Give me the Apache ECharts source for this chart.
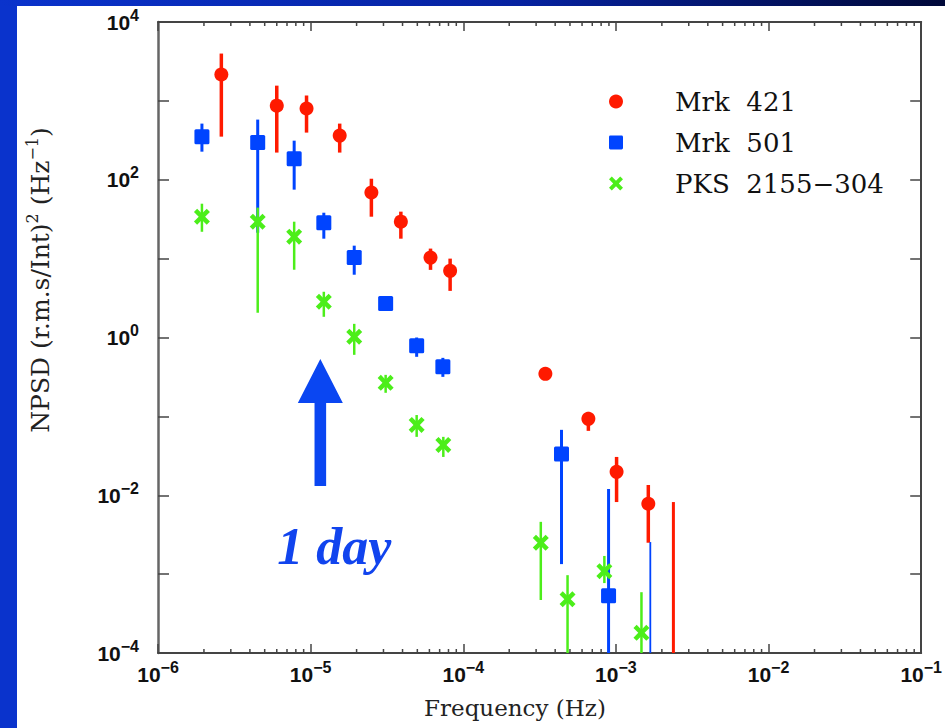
<!DOCTYPE html>
<html>
<head>
<meta charset="utf-8">
<script src="https://cdn.jsdelivr.net/npm/echarts@6/dist/echarts.min.js"></script>
<style>
html,body{margin:0;padding:0;background:#fff;}
#c{width:945px;height:728px;}
</style>
</head>
<body>
<div id="c"></div>
<script>
// ---- Data ----
const mrk421Freq = [2.6e-6, 6.0e-6, 9.4e-6, 1.55e-5, 2.5e-5, 3.9e-5, 6.1e-5, 8.2e-5, 3.45e-4, 6.6e-4, 1.01e-3, 1.63e-3];
const mrk421Npsd = [2160, 870, 800, 363, 69, 29.4, 10.3, 7.0, 0.346, 0.093, 0.0198, 0.0078];
const mrk421Hi   = [3980, 1560, 1170, 515, 103, 39.4, 13.4, 10.0, 0.36, 0.114, 0.0306, 0.0135];
const mrk421Lo   = [352, 221, 396, 221, 34, 17.9, 7.2, 3.9, 0.33, 0.0655, 0.0082, 0.0025];

const mrk501Freq = [1.94e-6, 4.5e-6, 7.8e-6, 1.22e-5, 1.93e-5, 3.1e-5, 4.95e-5, 7.35e-5, 4.4e-4, 8.95e-4];
const mrk501Npsd = [352, 296, 185, 28.6, 10.3, 2.7, 0.785, 0.425, 0.0334, 0.00053];
const mrk501Hi   = [515, 579, 313, 38.2, 14.6, 3.0, 1.0, 0.552, 0.0675, 0.012];
const mrk501Lo   = [227, 21.3, 74.9, 17.9, 6.25, 2.4, 0.569, 0.317, 0.00134, 1e-5];

const pksFreq = [1.94e-6, 4.5e-6, 7.8e-6, 1.22e-5, 1.93e-5, 3.1e-5, 4.95e-5, 7.4e-5, 3.22e-4, 4.82e-4, 8.4e-4, 1.47e-3];
const pksNpsd = [34, 29.4, 19.0, 2.84, 1.02, 0.266, 0.078, 0.0435, 0.0025, 0.00048, 0.00109, 0.00018];
const pksHi   = [49.7, 44.3, 29.4, 3.8, 1.49, 0.336, 0.104, 0.055, 0.0046, 0.00097, 0.0017, 0.00059];
const pksLo   = [21.9, 2.06, 7.23, 1.83, 0.603, 0.199, 0.055, 0.0306, 0.00047, 1e-5, 0.00077, 1e-5];

// error bars without a plotted point (upper limits)
const mrk421LimitFreq = [2.38e-3];
const mrk421LimitHi   = [0.0082];
const mrk421LimitLo   = [1e-5];
const mrk501LimitFreq = [1.68e-3];
const mrk501LimitHi   = [0.00255];
const mrk501LimitLo   = [1e-5];

const seriesNames = ['Mrk 421', 'Mrk 501', 'PKS 2155\u2212304'];
const xMin = 1e-6, xMax = 1e-1, yMin = 1e-4, yMax = 1e4;
const minorMultipliers = [2, 3, 4, 5, 6, 7, 8, 9];
const oneDayFreq = 1 / 86400;

// ---- Styles ----
const RED = '#ff1a00', BLUE = '#0044ff', GREEN = '#4cee1a';
const SERIF = '"DejaVu Serif", "Liberation Serif", serif';
const SANS = '"Liberation Sans", Arial, sans-serif';
const AXIS_COLOR = '#444';

const minorTickData = [];
for (let e = Math.round(Math.log10(xMin)); e < Math.round(Math.log10(xMax)); e++) {
  minorMultipliers.forEach(m => minorTickData.push([m * Math.pow(10, e)]));
}

function supFormatter(v) {
  const e = Math.round(Math.log10(v));
  return '{b|10}{e|' + (e < 0 ? '\u2212' + (-e) : String(e)) + '}';
}
const supRich = {
  b: { fontSize: 21, fontFamily: SANS, color: '#111', fontWeight: 'bold', verticalAlign: 'middle' },
  e: { fontSize: 16, fontFamily: SANS, color: '#111', fontWeight: 'bold', verticalAlign: 'middle', padding: [0, 0, 14, 0] }
};

function errSeries(name, freq, lo, hi, color, width, z) {
  return {
    type: 'custom', name: name, clip: true, silent: true, z: z,
    data: freq.map((f, i) => [f, lo[i], hi[i]]),
    encode: { x: 0, y: [1, 2] },
    renderItem: function (params, api) {
      const a = api.coord([api.value(0), api.value(1)]);
      const b = api.coord([api.value(0), api.value(2)]);
      return { type: 'line', shape: { x1: a[0], y1: a[1], x2: b[0], y2: b[1] },
               style: { stroke: color, lineWidth: width } };
    }
  };
}
function pointSeries(name, freq, vals, symbol, size, color, z) {
  return {
    type: 'scatter', name: name, symbol: symbol, symbolSize: size, z: z,
    itemStyle: { color: color, opacity: 1 },
    data: freq.map((f, i) => [f, vals[i]])
  };
}

const xSymbol = 'path://M0,4 L4,0 L10,6 L16,0 L20,4 L14,10 L20,16 L16,20 L10,14 L4,20 L0,16 L6,10 Z';
const squareSymbol = 'path://M1,0 L9,0 Q10,0 10,1 L10,9 Q10,10 9,10 L1,10 Q0,10 0,9 L0,1 Q0,0 1,0 Z';

const chart = echarts.init(document.getElementById('c'), null, { renderer: 'svg', width: 945, height: 728 });

const option = {
  backgroundColor: '#ffffff',
  animation: false,
  grid: { left: 158, top: 22, width: 764, height: 631 },
  legend: {
    data: seriesNames,
    orient: 'vertical', left: 609, top: 88, padding: 0,
    itemWidth: 14, itemHeight: 14, itemGap: 14,
    selectedMode: false,
    formatter: n => '{n|' + n.replace(' ', '\u00a0\u00a0') + '}',
    textStyle: { fontFamily: SERIF, fontSize: 26, color: '#111', lineHeight: 27,
      rich: { n: { fontFamily: SERIF, fontSize: 26, color: '#111', lineHeight: 27, padding: [0, 0, 0, 47] } } }
  },
  xAxis: [
    { type: 'log', logBase: 10, min: xMin, max: xMax, position: 'bottom',
      axisLine: { show: true, lineStyle: { color: AXIS_COLOR, width: 2 } },
      axisTick: { show: true, inside: true, length: 9, lineStyle: { color: AXIS_COLOR, width: 1.5 } },
      axisLabel: { formatter: supFormatter, rich: supRich, margin: 6 },
      splitLine: { show: false }, minorTick: { show: false } },
    { type: 'log', logBase: 10, min: xMin, max: xMax, position: 'top',
      axisLine: { show: true, lineStyle: { color: AXIS_COLOR, width: 2 } },
      axisTick: { show: true, inside: true, length: 9, lineStyle: { color: AXIS_COLOR, width: 1.5 } },
      axisLabel: { show: false }, splitLine: { show: false } }
  ],
  yAxis: [
    { type: 'log', logBase: 10, min: yMin, max: yMax, splitNumber: 8, position: 'left',
      axisLine: { show: true, lineStyle: { color: '#666', width: 2.5 } },
      axisTick: { show: true, inside: true, length: 11, lineStyle: { color: AXIS_COLOR, width: 1.5 } },
      axisLabel: {
        formatter: v => (Math.round(Math.log10(v)) % 2 === 0 ? supFormatter(v) : ''),
        rich: supRich, margin: 19
      },
      splitLine: { show: false } },
    { type: 'log', logBase: 10, min: yMin, max: yMax, splitNumber: 8, position: 'right',
      axisLine: { show: true, lineStyle: { color: AXIS_COLOR, width: 2 } },
      axisTick: { show: true, inside: true, length: 11, lineStyle: { color: AXIS_COLOR, width: 1.5 } },
      axisLabel: { show: false }, splitLine: { show: false } }
  ],
  series: [
    {
      type: 'custom', name: 'minor ticks', silent: true, z: 1,
      data: minorTickData, encode: { x: 0 },
      renderItem: function (params, api) {
        const pb = api.coord([api.value(0), yMin]);
        const pt = api.coord([api.value(0), yMax]);
        return { type: 'group', children: [
          { type: 'line', shape: { x1: pb[0], y1: pb[1], x2: pb[0], y2: pb[1] - 4 }, style: { stroke: AXIS_COLOR, lineWidth: 1.5 } },
          { type: 'line', shape: { x1: pt[0], y1: pt[1], x2: pt[0], y2: pt[1] + 4 }, style: { stroke: AXIS_COLOR, lineWidth: 1.5 } }
        ] };
      }
    },
    errSeries('Mrk 421 errors', mrk421Freq, mrk421Lo, mrk421Hi, RED, 3.5, 2),
    errSeries('Mrk 421 limit', mrk421LimitFreq, mrk421LimitLo, mrk421LimitHi, RED, 3, 2),
    pointSeries(seriesNames[0], mrk421Freq, mrk421Npsd, 'circle', 14, RED, 3),
    errSeries('Mrk 501 errors', mrk501Freq, mrk501Lo, mrk501Hi, BLUE, 3, 4),
    errSeries('Mrk 501 limit', mrk501LimitFreq, mrk501LimitLo, mrk501LimitHi, BLUE, 1.8, 4),
    pointSeries(seriesNames[1], mrk501Freq, mrk501Npsd, squareSymbol, 15, BLUE, 5),
    errSeries('PKS errors', pksFreq, pksLo, pksHi, GREEN, 2.5, 6),
    pointSeries(seriesNames[2], pksFreq, pksNpsd, xSymbol, 16, GREEN, 7)
  ]
};
chart.setOption(option);

// ---- Annotations and frame ----
const ax = chart.convertToPixel({ xAxisIndex: 0 }, oneDayFreq);
chart.setOption({
  graphic: [
    { type: 'rect', z: 100, silent: true, shape: { x: 0, y: 0, width: 17, height: 728 }, style: { fill: '#0a33cc' } },
    { type: 'rect', z: 100, silent: true, shape: { x: 0, y: 0, width: 945, height: 6 },
      style: { fill: new echarts.graphic.LinearGradient(0, 0, 1, 0, [
        { offset: 0, color: '#0a33cc' }, { offset: 0.55, color: '#0622a0' }, { offset: 1, color: '#000838' }]) } },
    { type: 'polygon', z: 50, silent: true,
      shape: { points: [[ax, 359], [ax + 22.5, 403], [ax + 5.8, 403], [ax + 5.8, 486], [ax - 5.8, 486], [ax - 5.8, 403], [ax - 22.5, 403]] },
      style: { fill: '#0a46f2' } },
    { type: 'text', z: 50, silent: true, x: ax + 14, y: 546,
      style: { text: '1 day', fill: '#1144ee', font: 'italic bold 52px "Liberation Serif", "Times New Roman", serif',
               align: 'center', verticalAlign: 'middle' } },
    { type: 'text', z: 50, silent: true, x: 515, y: 708,
      style: { text: 'Frequency (Hz)', fill: '#222', font: '23px ' + SERIF, align: 'center', verticalAlign: 'middle' } },
    { type: 'text', z: 50, silent: true, x: 40, y: 280, rotation: Math.PI / 2,
      style: {
        text: '{t|NPSD (r.m.s/Int)}{s|2}{t| (Hz}{s|\u22121}{t|)}',
        align: 'center', verticalAlign: 'middle',
        rich: {
          t: { fontFamily: SERIF, fontSize: 25, fill: '#222', verticalAlign: 'middle' },
          s: { fontFamily: SERIF, fontSize: 16, fill: '#222', verticalAlign: 'middle', padding: [0, 0, 15, 0] }
        }
      } }
  ]
});
</script>
</body>
</html>
